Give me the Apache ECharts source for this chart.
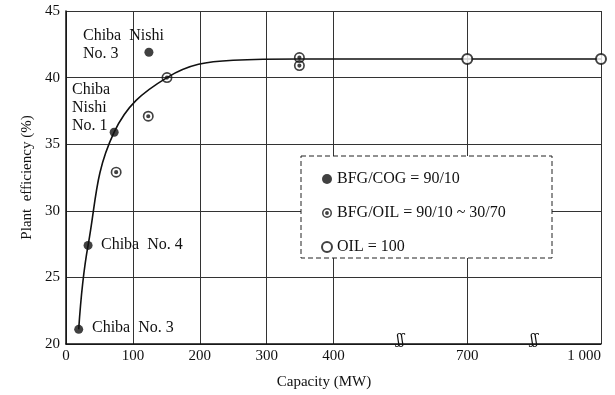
<!DOCTYPE html>
<html>
<head>
<meta charset="utf-8">
<script src="https://cdn.jsdelivr.net/npm/echarts@6/dist/echarts.min.js"></script>
<style>
  html, body { margin: 0; padding: 0; background: #fff; }
  #chart { width: 615px; height: 395px; }
</style>
</head>
<body>
<div id="chart"></div>
<script>
// capacity (MW) and plant efficiency (%)
const cogCap = [19, 33, 72, 124];
const cogEff = [21.1, 27.4, 35.9, 41.9];
const mixCap = [75, 123, 151, 349, 349];
const mixEff = [32.9, 37.1, 40.0, 41.5, 40.9];
const oilCap = [700, 1000];
const oilEff = [41.4, 41.4];
const curveCap = [19, 33, 72, 151, 250, 350, 700, 1000];
const curveEff = [21.1, 27.4, 35.9, 40.0, 41.3, 41.4, 41.4, 41.4];
const xTicks = [0, 100, 200, 300, 400, 700, 1000];
const xTickLabels = ["0", "100", "200", "300", "400", "700", "1 000"];
const breakAt = [550, 850];

// broken axis: 0-400 linear, 400-700 and 700-1000 compressed
function toAxis(mw) {
  if (mw <= 400) return mw;
  if (mw <= 700) return 400 + (mw - 400) * 2 / 3;
  return 600 + (mw - 700) * 2 / 3;
}
const pairs = (xs, ys) => xs.map((x, i) => [toAxis(x), ys[i]]);
const tickPos = xTicks.map(toAxis);

const serif = "Liberation Serif";
const dotCircle = "path://M0,-10A10,10 0 1,1 0,10A10,10 0 1,1 0,-10ZM0,-7A7,7 0 1,0 0,7A7,7 0 1,0 0,-7ZM0,-3.8A3.8,3.8 0 1,1 0,3.8A3.8,3.8 0 1,1 0,-3.8Z";

const chart = echarts.init(document.getElementById("chart"));
const option = {
  backgroundColor: "#fff",
  animation: false,
  grid: { left: 66, right: 14, top: 11, bottom: 51, outerBoundsMode: "none" },
  xAxis: {
    type: "value",
    min: 0,
    max: 800,
    interval: 100,
    axisLine: { show: true, lineStyle: { color: "#111", width: 1.5 } },
    axisTick: { show: false, customValues: tickPos },
    splitLine: { show: true, lineStyle: { color: "#333", width: 1 } },
    axisLabel: {
      customValues: tickPos,
      margin: 5,
      color: "#111",
      fontFamily: serif,
      fontSize: 15,
      alignMaxLabel: "right",
      formatter: (v) => {
        const i = tickPos.indexOf(v);
        return i >= 0 ? xTickLabels[i] : "";
      },
    },
  },
  yAxis: {
    type: "value",
    min: 20,
    max: 45,
    interval: 5,
    name: "Plant  efficiency (%)",
    nameLocation: "middle",
    nameGap: 30,
    nameTextStyle: { fontFamily: serif, fontSize: 15, color: "#111" },
    axisLine: { show: true, lineStyle: { color: "#111", width: 1.5 } },
    axisTick: { show: false },
    splitLine: { show: true, lineStyle: { color: "#333", width: 1 } },
    axisLabel: { margin: 6, color: "#111", fontFamily: serif, fontSize: 15 },
  },
  legend: {
    orient: "vertical",
    left: 316,
    top: 166,
    itemGap: 18,
    itemWidth: 10,
    itemHeight: 10,
    z: 60,
    textStyle: { fontFamily: serif, fontSize: 16, color: "#111" },
    data: [
      { name: "BFG/COG = 90/10", icon: "circle" },
      { name: "BFG/OIL = 90/10 ~ 30/70", icon: dotCircle },
      { name: "OIL = 100", icon: "emptyCircle" },
    ],
  },
  graphic: [
    {
      type: "rect",
      z: 50,
      shape: { x: 301, y: 156, width: 251, height: 102 },
      style: { fill: "#fff", stroke: "#222", lineWidth: 1, lineDash: [5, 3] },
    },
    {
      type: "text", x: 83, y: 27, z: 50,
      style: { text: "Chiba  Nishi\nNo. 3", font: "16px Liberation Serif", fill: "#111", lineHeight: 18 },
    },
    {
      type: "text", x: 72, y: 81, z: 50,
      style: { text: "Chiba\nNishi\nNo. 1", font: "16px Liberation Serif", fill: "#111", lineHeight: 18 },
    },
    {
      type: "text", x: 101, y: 245, z: 50,
      style: { text: "Chiba  No. 4", font: "16px Liberation Serif", fill: "#111", verticalAlign: "middle" },
    },
    {
      type: "text", x: 92, y: 328, z: 50,
      style: { text: "Chiba  No. 3", font: "16px Liberation Serif", fill: "#111", verticalAlign: "middle" },
    },
    {
      type: "text", x: 324, y: 382, z: 50,
      style: { text: "Capacity (MW)", font: "15px Liberation Serif", fill: "#111", align: "center", verticalAlign: "middle" },
    },
  ],
  series: [
    {
      name: "curve",
      type: "line",
      data: pairs(curveCap, curveEff),
      smooth: 0.4,
      symbol: "none",
      lineStyle: { color: "#111", width: 1.6 },
      z: 3,
      markPoint: {
        symbol: "circle",
        symbolSize: 1,
        itemStyle: { color: "rgba(0,0,0,0)" },
        label: {
          show: true,
          position: "inside",
          formatter: "ʃʃ",
          fontFamily: "DejaVu Serif",
          fontSize: 14,
          color: "#111",
        },
        data: breakAt.map((b) => ({ coord: [toAxis(b), 20.3] })),
      },
    },
    {
      name: "BFG/COG = 90/10",
      type: "scatter",
      data: pairs(cogCap, cogEff),
      symbol: "circle",
      symbolSize: 9,
      itemStyle: { color: "#111" },
      z: 5,
    },
    {
      name: "BFG/OIL = 90/10 ~ 30/70",
      type: "scatter",
      data: pairs(mixCap, mixEff),
      symbol: dotCircle,
      symbolSize: 11,
      itemStyle: { color: "#111" },
      z: 5,
    },
    {
      name: "OIL = 100",
      type: "scatter",
      data: pairs(oilCap, oilEff),
      symbol: "emptyCircle",
      symbolSize: 10,
      itemStyle: { color: "#111", borderColor: "#111", borderWidth: 1.2 },
      z: 5,
    },
  ],
};
chart.setOption(option);
</script>
</body>
</html>
